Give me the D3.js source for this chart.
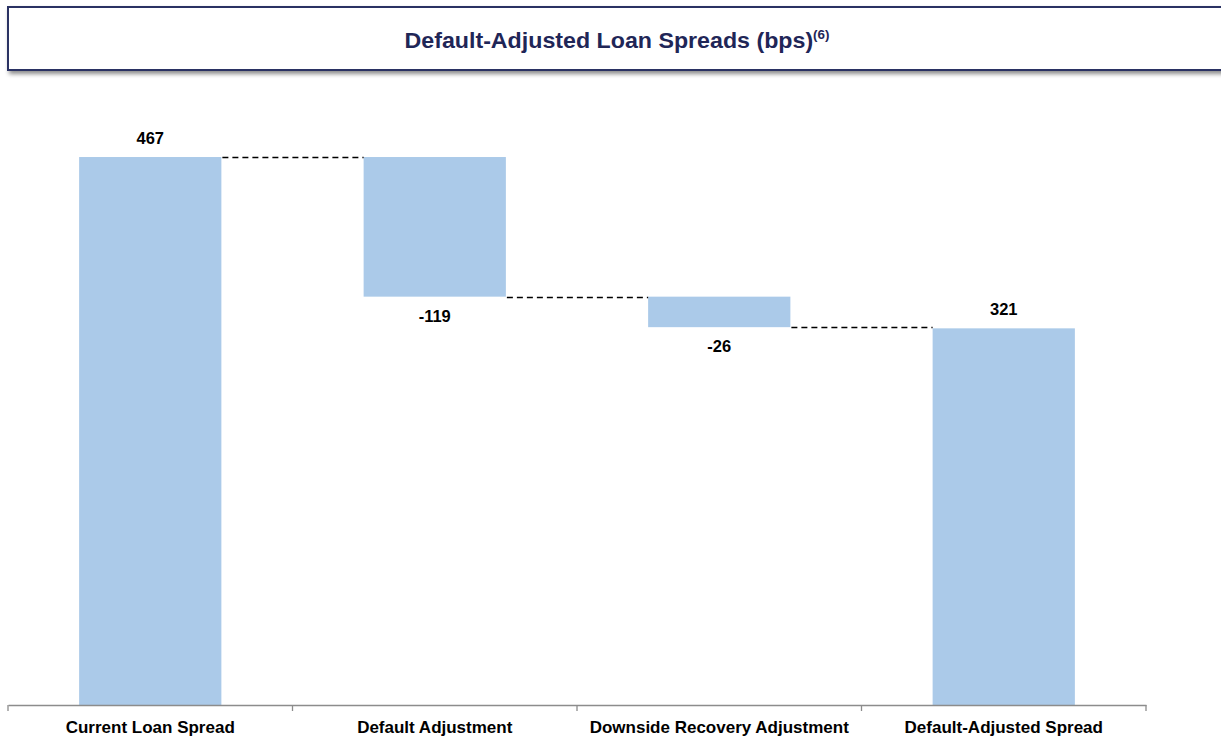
<!DOCTYPE html>
<html>
<head>
<meta charset="utf-8">
<script src="https://cdn.jsdelivr.net/npm/d3@7"></script>
<style>
  html, body { margin: 0; padding: 0; background: #fff; }
  svg { display: block; font-family: "Liberation Sans", Arial, sans-serif; }
</style>
</head>
<body>
<svg id="chart" width="1221" height="738"></svg>
<script>
// Waterfall steps: starting spread, two adjustments, resulting spread (bps)
const categories = ["Current Loan Spread", "Default Adjustment", "Downside Recovery Adjustment", "Default-Adjusted Spread"];
const values = [467, -119, -26, 321];
const kinds = ["total", "delta", "delta", "total"];
const valueLabels = ["467", "-119", "-26", "321"];

const svg = d3.select("#chart");

// Title panel with drop shadow
const defs = svg.append("defs");
const f = defs.append("filter").attr("id", "shadow")
  .attr("x", "-5%").attr("y", "-30%").attr("width", "115%").attr("height", "170%");
f.append("feDropShadow").attr("dx", 2).attr("dy", 3).attr("stdDeviation", 2.2)
  .attr("flood-color", "#000").attr("flood-opacity", 0.45);

svg.append("rect")
  .attr("x", 8).attr("y", 7).attr("width", 1230).attr("height", 63)
  .attr("fill", "#fff").attr("stroke", "#2b3163").attr("stroke-width", 2)
  .attr("filter", "url(#shadow)");

const title = svg.append("text")
  .attr("x", 617).attr("y", 48)
  .attr("text-anchor", "middle")
  .attr("fill", "#1f2657")
  .attr("font-size", 22.5).attr("font-weight", "bold")
  .attr("textLength", 425).attr("lengthAdjust", "spacingAndGlyphs");
title.append("tspan").text("Default-Adjusted Loan Spreads (bps)");
title.append("tspan").attr("font-size", 13).attr("dy", -9).text("(6)");

// Scales
const x = d3.scaleBand().domain(categories).range([8, 1146]).paddingInner(0).paddingOuter(0);
const y = d3.scaleLinear().domain([0, 500]).range([705, 118.3]);

// Compute waterfall spans
let running = 0;
const steps = categories.map((c, i) => {
  let lo, hi;
  if (kinds[i] === "total") {
    lo = 0; hi = values[i]; running = values[i];
  } else {
    const start = running; running = running + values[i];
    lo = Math.min(start, running); hi = Math.max(start, running);
  }
  return { cat: c, v: values[i], lo, hi, end: running, label: valueLabels[i] };
});

const barW = x.bandwidth() * 0.5;
const bx = d => x(d.cat) + (x.bandwidth() - barW) / 2;

const g = svg.append("g");

g.selectAll("rect.bar").data(steps).join("rect")
  .attr("class", "bar")
  .attr("x", bx)
  .attr("y", d => y(d.hi))
  .attr("width", barW)
  .attr("height", d => y(d.lo) - y(d.hi))
  .attr("fill", "#abcae9");

// Dashed connectors between consecutive bars
g.selectAll("line.conn").data(steps.slice(0, -1)).join("line")
  .attr("class", "conn")
  .attr("x1", d => bx(d) + barW + 1)
  .attr("x2", (d, i) => bx(steps[i + 1]))
  .attr("y1", d => Math.round(y(d.end)) + 0.5)
  .attr("y2", d => Math.round(y(d.end)) + 0.5)
  .attr("stroke", "#000").attr("stroke-width", 1.5)
  .attr("stroke-dasharray", "6,4");

// Value labels: above for totals, below for negative adjustments
g.selectAll("text.val").data(steps).join("text")
  .attr("class", "val")
  .attr("x", d => bx(d) + barW / 2)
  .attr("y", d => d.v >= 0 ? y(d.hi) - 13 : y(d.lo) + 25)
  .attr("text-anchor", "middle")
  .attr("font-size", 16.5).attr("font-weight", "bold").attr("fill", "#000")
  .text(d => d.label);

// Category axis
const axis = d3.axisBottom(x).tickSize(0).tickPadding(0);
const ax = svg.append("g").attr("transform", "translate(0,705)").call(axis);
ax.select(".domain").attr("stroke", "#8c8c8c").attr("stroke-width", 1.3);
ax.selectAll(".tick text")
  .attr("y", 28).attr("dy", 0)
  .attr("font-size", 17).attr("font-weight", "bold").attr("fill", "#000")
  .attr("font-family", "Liberation Sans, Arial, sans-serif");

// Boundary tick marks between categories
const bounds = categories.map(c => x(c)).concat([x.range()[1]]);
ax.selectAll("line.bound").data(bounds).join("line")
  .attr("class", "bound")
  .attr("x1", d => d).attr("x2", d => d)
  .attr("y1", 0).attr("y2", 6)
  .attr("stroke", "#8c8c8c").attr("stroke-width", 1.3);
</script>
</body>
</html>
